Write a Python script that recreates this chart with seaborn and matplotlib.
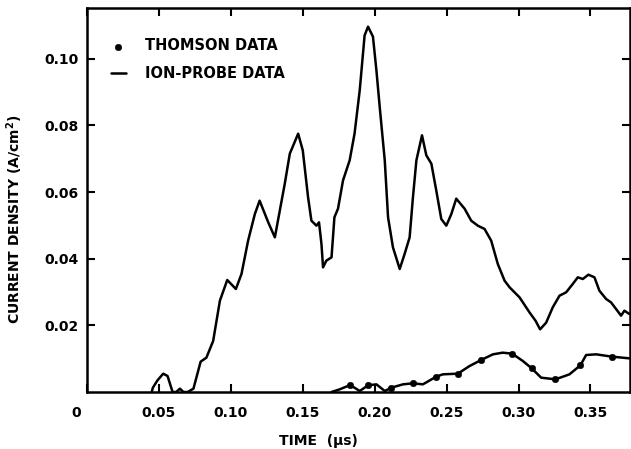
import numpy as np
import pandas as pd
import matplotlib
matplotlib.use("Agg")
import matplotlib.pyplot as plt
import matplotlib.transforms as mtransforms
import seaborn as sns

# ion-probe current density
probe_t = [0.045, 0.0458, 0.049, 0.053, 0.056, 0.0595, 0.062, 0.0646, 0.067, 0.070,
           0.074, 0.079, 0.083, 0.0877, 0.0924, 0.0975, 0.1035, 0.1074, 0.112, 0.1167,
           0.120, 0.126, 0.1306, 0.1375, 0.141, 0.1468, 0.150, 0.1537, 0.156, 0.1595,
           0.1613, 0.163, 0.1641, 0.1664, 0.170, 0.172, 0.1745, 0.178, 0.1826, 0.186,
           0.1896, 0.193, 0.1954, 0.1988, 0.2012, 0.2035, 0.207, 0.2093, 0.2127, 0.2174,
           0.2208, 0.2243, 0.2266, 0.229, 0.2329, 0.2359, 0.2394, 0.2428, 0.2463, 0.2498,
           0.2533, 0.2567, 0.2625, 0.2671, 0.2717, 0.2764, 0.281, 0.2856, 0.2903, 0.2938,
           0.3007, 0.3076, 0.3118, 0.315, 0.3192, 0.3238, 0.3285, 0.3331, 0.3377, 0.3412,
           0.3447, 0.3486, 0.3528, 0.3562, 0.3609, 0.3643, 0.3678, 0.3713, 0.3736, 0.377]
probe_j = [0.0, 0.0013, 0.0035, 0.0055, 0.0048, 0.0, 0.0, 0.001, 0.0, 0.0,
           0.001, 0.0091, 0.0103, 0.0153, 0.0274, 0.0336, 0.0309, 0.0354, 0.0454, 0.0534,
           0.0574, 0.0509, 0.0464, 0.0625, 0.0715, 0.0775, 0.0725, 0.0584, 0.0514, 0.0499,
           0.0509, 0.0444, 0.0374, 0.0394, 0.0404, 0.0524, 0.055, 0.0635, 0.0695, 0.0775,
           0.0905, 0.107, 0.1096, 0.1066, 0.0965, 0.0855, 0.0695, 0.0524, 0.0434, 0.0369,
           0.0414, 0.0464, 0.0584, 0.0695, 0.077, 0.071, 0.0685, 0.0605, 0.0519, 0.0499,
           0.0534, 0.058, 0.055, 0.0514, 0.0499, 0.0489, 0.0454, 0.0384, 0.0334, 0.0314,
           0.0284, 0.0239, 0.0214, 0.0188, 0.0208, 0.0254, 0.0289, 0.0299, 0.0324, 0.0344,
           0.0339, 0.0352, 0.0344, 0.0304, 0.0279, 0.0269, 0.0249, 0.0229, 0.0244, 0.0234]

# curve through the Thomson points
thomson_t = [0.170, 0.1757, 0.183, 0.1896, 0.1954, 0.2012, 0.207, 0.2116, 0.2197, 0.2266,
             0.2335, 0.2428, 0.2474, 0.2578, 0.266, 0.274, 0.2822, 0.289, 0.2956, 0.303,
             0.3092, 0.3157, 0.3257, 0.3354, 0.343, 0.347, 0.354, 0.365, 0.377]
thomson_j = [0.0, 0.0008, 0.0021, 0.0003, 0.002, 0.0023, 0.0003, 0.0013, 0.0023, 0.0026,
             0.0023, 0.0046, 0.0053, 0.0055, 0.0078, 0.0096, 0.0113, 0.0118, 0.0115, 0.0093,
             0.0071, 0.0043, 0.0038, 0.0053, 0.008, 0.0111, 0.0113, 0.0106, 0.0101]

# Thomson scattering measurements
dot_t = [0.183, 0.1954, 0.2116, 0.2266, 0.2428, 0.2578, 0.274, 0.2956, 0.3092, 0.3257, 0.343, 0.365]
dot_j = [0.0021, 0.002, 0.0013, 0.0026, 0.0046, 0.0055, 0.0096, 0.0115, 0.0071, 0.0038, 0.008, 0.0106]

x_ticks = [0, 0.05, 0.10, 0.15, 0.20, 0.25, 0.30, 0.35]
x_labels = ["0", "0.05", "0.10", "0.15", "0.20", "0.25", "0.30", "0.35"]
y_ticks = [0.02, 0.04, 0.06, 0.08, 0.10]
y_labels = ["0.02", "0.04", "0.06", "0.08", "0.10"]

sns.set_style("ticks", {"axes.edgecolor": "black", "text.color": "black",
                        "axes.labelcolor": "black", "xtick.color": "black",
                        "ytick.color": "black"})
plt.rcParams["font.family"] = ["DejaVu Sans"]

fig = plt.figure(figsize=(6.31, 4.49), dpi=100)
ax = fig.add_axes([87 / 631, 57 / 449, 543 / 631, 384 / 449])

probe = pd.DataFrame({"t": probe_t, "j": probe_j})
thom = pd.DataFrame({"t": thomson_t, "j": thomson_j})
dots = pd.DataFrame({"t": dot_t, "j": dot_j})

sns.lineplot(data=thom, x="t", y="j", ax=ax, color="black", lw=1.8,
             estimator=None, sort=False)
sns.scatterplot(data=dots, x="t", y="j", ax=ax, color="black", s=22,
                edgecolor="black", label="THOMSON DATA", zorder=3)
sns.lineplot(data=probe, x="t", y="j", ax=ax, color="black", lw=1.8,
             estimator=None, sort=False, label="ION-PROBE DATA")

ax.set_xlim(0, 0.3775)
ax.set_ylim(0, 0.1152)
ax.set_xticks(x_ticks)
ax.set_xticklabels(x_labels, fontsize=10, fontweight="bold")
ax.set_yticks(y_ticks)
ax.set_yticklabels(y_labels, fontsize=10, fontweight="bold")
ax.tick_params(direction="in", length=6, width=1.5, top=True, right=True)
ax.tick_params(axis="x", pad=10)
ax.tick_params(axis="y", pad=6)
for s in ax.spines.values():
    s.set_linewidth(1.8)

# shift the "0" label left as in the original
off = mtransforms.ScaledTranslation(-11 / 100, 0, fig.dpi_scale_trans)
lab0 = ax.get_xticklabels()[0]
lab0.set_transform(lab0.get_transform() + off)

ax.set_xlabel("TIME  (\u03bcs)", fontsize=10, fontweight="bold")
ax.xaxis.set_label_coords(0.427, -0.11)
ax.set_ylabel("CURRENT DENSITY (A/cm$^\\mathbf{2}$)", fontsize=10, fontweight="bold")
ax.yaxis.set_label_coords(-0.114, 0.45)

leg = ax.legend(loc="upper left", bbox_to_anchor=(0.02, 0.955), frameon=False,
                handlelength=1.0, handletextpad=1.3, labelspacing=0.85,
                prop={"size": 10.5, "weight": "bold"})

plt.savefig("out.png", dpi=100)
